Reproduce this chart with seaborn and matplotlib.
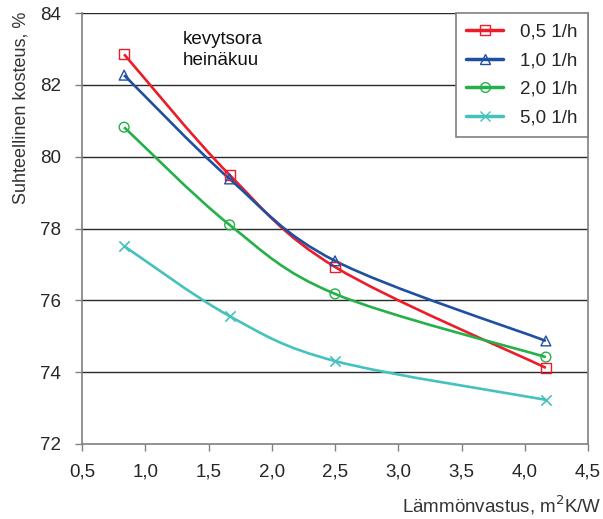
import numpy as np
import pandas as pd
import matplotlib
matplotlib.use("Agg")
import matplotlib.pyplot as plt
from matplotlib.path import Path
from matplotlib.patches import PathPatch
from matplotlib.lines import Line2D
import seaborn as sns

# ---- data ----
resistance = [0.833, 1.667, 2.5, 4.167]
rh_05 = [82.85, 79.49, 76.93, 74.12]
rh_10 = [82.27, 79.38, 77.10, 74.87]
rh_20 = [80.82, 78.10, 76.18, 74.42]
rh_50 = [77.51, 75.56, 74.31, 73.23]
series_labels = ["0,5 1/h", "1,0 1/h", "2,0 1/h", "5,0 1/h"]
x_ticks = [0.5, 1.0, 1.5, 2.0, 2.5, 3.0, 3.5, 4.0, 4.5]
x_ticklabels = ["0,5", "1,0", "1,5", "2,0", "2,5", "3,0", "3,5", "4,0", "4,5"]
y_ticks = [72, 74, 76, 78, 80, 82, 84]

colors = ["#EC1C2A", "#1F4FA0", "#25B04A", "#44C2BE"]
markers = ["s", "^", "o", "x"]

sns.set_theme(style="white")
plt.rcParams["font.family"] = ["Liberation Sans", "DejaVu Sans"]

fig = plt.figure(figsize=(6.03, 5.19), dpi=100)
ax = fig.add_axes([82 / 603, 1 - 444 / 519, (588 - 82) / 603, (444 - 13) / 519])

df = pd.DataFrame({
    "x": resistance * 4,
    "y": rh_05 + rh_10 + rh_20 + rh_50,
    "s": sum([[l] * 4 for l in series_labels], []),
})

def smooth_path(xs, ys):
    pts = np.column_stack([xs, ys])
    n = len(pts)
    verts = [pts[0]]
    codes = [Path.MOVETO]
    for i in range(n - 1):
        p0 = pts[i - 1] if i > 0 else pts[i]
        p1 = pts[i]
        p2 = pts[i + 1]
        p3 = pts[i + 2] if i + 2 < n else pts[i + 1]
        c1 = p1 + (p2 - p0) / 6.0
        c2 = p2 - (p3 - p1) / 6.0
        verts += [c1, c2, p2]
        codes += [Path.CURVE4] * 3
    return Path(verts, codes)

for lab, col in zip(series_labels, colors):
    sub = df[df["s"] == lab]
    patch = PathPatch(smooth_path(sub["x"].values, sub["y"].values),
                      facecolor="none", edgecolor=col, lw=1.9,
                      transform=ax.transData, zorder=3)
    ax.add_patch(patch)

for lab, col, mk in zip(series_labels, colors, markers):
    sub = df[df["s"] == lab]
    if mk == "x":
        sns.scatterplot(data=sub, x="x", y="y", marker=mk, s=55, color=col,
                        linewidth=1.2, ax=ax, zorder=4, legend=False)
    else:
        sns.scatterplot(data=sub, x="x", y="y", marker=mk, s=50, facecolor="none",
                        edgecolor=col, linewidth=1.0, ax=ax, zorder=4, legend=False)

ax.set_xlim(0.5, 4.5)
ax.set_ylim(72, 84)
ax.set_xticks(x_ticks)
ax.set_xticklabels(x_ticklabels)
ax.set_yticks(y_ticks)
ax.tick_params(axis="both", which="both", labelsize=13.5, length=5, width=1,
               color="#808080", direction="out", bottom=True, left=True)
ax.tick_params(axis="y", pad=10)
ax.tick_params(axis="x", pad=9)
for y in y_ticks[1:]:
    ax.axhline(y, color="#2a2a2a", lw=1.0, zorder=1)
for side in ["left", "bottom", "right"]:
    ax.spines[side].set_color("#808080")
    ax.spines[side].set_linewidth(1.2)
ax.spines["top"].set_visible(False)

ax.set_xlabel("Lämmönvastus, m$^2$K/W", fontsize=13.5, color="#333333")
ax.xaxis.label.set_horizontalalignment("right")
ax.xaxis.label.set_verticalalignment("center")
ax.xaxis.set_label_coords((602 - 82) / 506, -(505 - 444) / 431)
ax.set_ylabel("Suhteellinen kosteus, %", fontsize=13, color="#333333")
ax.yaxis.label.set_verticalalignment("center")
ax.yaxis.set_label_coords((21 - 82) / 506, (444 - 108) / 431)

ax.text(1.30, 83.50, "kevytsora\nheinäkuu", fontsize=13.5, va="top", ha="left",
        linespacing=1.3, color="#111111")

handles = [Line2D([0], [0], color=c, lw=2.5, marker=m, markersize=7,
                  markerfacecolor="none", markeredgecolor=c, markeredgewidth=1.0)
           for c, m in zip(colors, markers)]
leg = fig.legend(handles, series_labels, loc="upper right",
                 bbox_to_anchor=(588 / 603, 1 - 13 / 519), fontsize=13.5,
                 frameon=True, fancybox=False, framealpha=1, edgecolor="#808080",
                 handlelength=2.0, handletextpad=0.9, labelspacing=0.62,
                 borderpad=0.55, borderaxespad=0)
leg.get_frame().set_linewidth(1.2)

fig.savefig("out.png", dpi=100)
